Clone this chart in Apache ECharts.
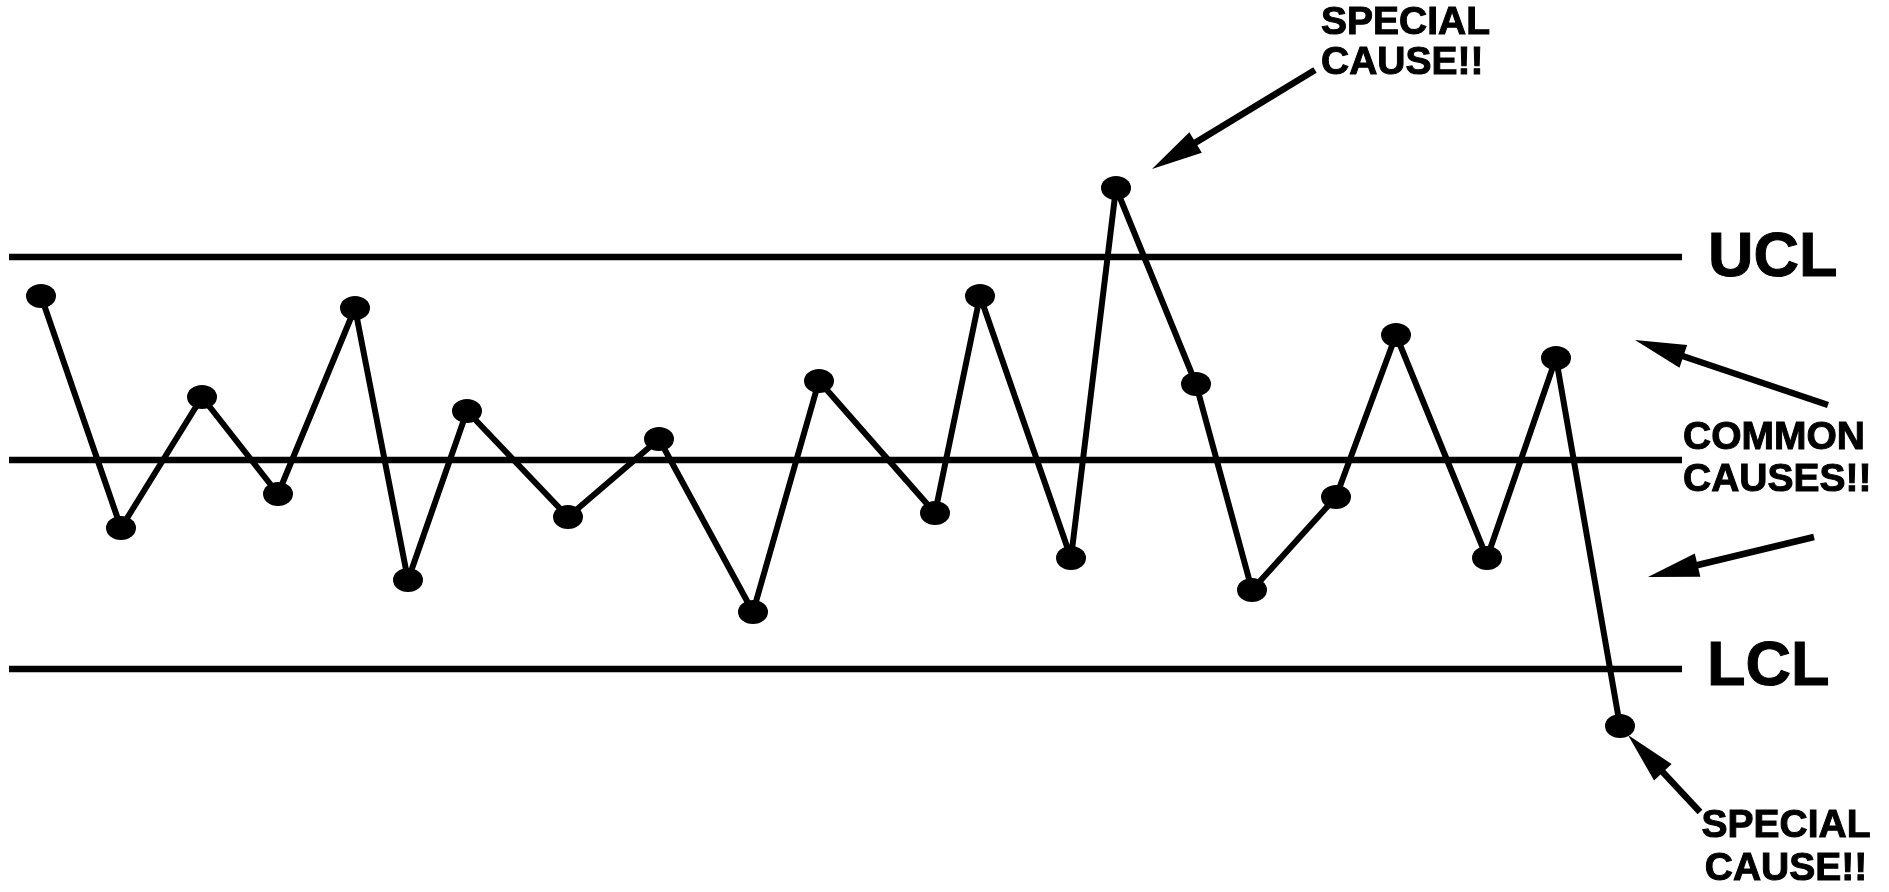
<!DOCTYPE html>
<html><head><meta charset="utf-8">
<script src="https://cdn.jsdelivr.net/npm/echarts@6/dist/echarts.min.js"></script>
<style>html,body{margin:0;padding:0;background:#fff}#c{width:1889px;height:892px}</style>
</head><body><div id="c"></div>
<script>
// Sample positions (time units) and measured values
const sampleX = [4.1, 12.1, 20.2, 27.8, 35.5, 40.8, 46.7, 56.8, 65.9, 75.3, 81.9, 93.5, 98.0, 107.1, 111.6, 119.6, 125.2, 133.6, 139.6, 148.7, 155.6, 162.0];
const sampleY = [59.6, 36.4, 49.5, 39.8, 58.4, 31.2, 48.1, 37.5, 45.3, 28.0, 51.1, 37.9, 59.6, 33.4, 70.4, 50.8, 30.2, 39.5, 55.7, 33.4, 53.4, 16.6];
// Control limits
const limitNames = ['UCL', 'CL', 'LCL'];
const limitValues = [63.5, 43.2, 22.3];
const limitSpan = [0.9, 168.2];
// Annotation texts and anchors (data units)
const labelTexts = ['UCL', 'LCL', 'SPECIAL\nCAUSE!!', 'COMMON\nCAUSES!!', 'SPECIAL\nCAUSE!!'];
const labelX = [170.8, 170.7, 132.1, 168.3, 178.6];
const labelY = [63.3, 22.4, 84.9, 43.3, 4.4];
// Annotation arrows (from -> tip, data units)
const arrowFromX = [131.5, 182.8, 181.4, 170.0];
const arrowFromY = [82.2, 48.7, 35.5, 8.0];
const arrowToX = [115.2, 163.5, 164.8, 162.8];
const arrowToY = [72.3, 55.2, 31.5, 15.7];

const FONT = '"Liberation Sans", Arial, Helvetica, sans-serif';
const labelStyle = [
  {size: 63, lh: 63, align: 'left'},
  {size: 63, lh: 63, align: 'left'},
  {size: 39, lh: 40, align: 'left'},
  {size: 39, lh: 42, align: 'left'},
  {size: 39, lh: 43, align: 'center'}
];

const chart = echarts.init(document.getElementById('c'), null, {renderer: 'canvas'});
const option = {
  animation: false,
  backgroundColor: '#fff',
  grid: {left: 0, right: 0, top: 0, bottom: 0},
  xAxis: {type: 'value', min: 0, max: 188.9, show: false},
  yAxis: {type: 'value', min: 0, max: 89.2, show: false},
  series: [
    ...limitValues.map((v, i) => ({
      type: 'line', name: limitNames[i],
      data: [[limitSpan[0], v], [limitSpan[1], v]],
      symbol: 'none', silent: true, z: 1,
      lineStyle: {color: '#000', width: 6.5}
    })),
    {
      type: 'line', name: 'samples',
      data: sampleX.map((x, i) => [x, sampleY[i]]),
      symbol: 'circle', symbolSize: [30, 24], showAllSymbol: true,
      itemStyle: {color: '#000'},
      lineStyle: {color: '#000', width: 6},
      clip: false, z: 3, silent: true
    },
    {
      type: 'custom', name: 'arrows', clip: false, silent: true, z: 4,
      encode: {x: [0, 2], y: [1, 3]},
      data: arrowFromX.map((x, i) => [x, arrowFromY[i], arrowToX[i], arrowToY[i]]),
      renderItem: (params, api) => {
        const p0 = api.coord([api.value(0), api.value(1)]);
        const p1 = api.coord([api.value(2), api.value(3)]);
        const dx = p0[0] - p1[0], dy = p0[1] - p1[1];
        const L = Math.hypot(dx, dy);
        const ux = dx / L, uy = dy / L;
        const hl = 51, hw = 12;
        const bx = p1[0] + ux * hl, by = p1[1] + uy * hl;
        return {
          type: 'group',
          children: [
            {type: 'line', shape: {x1: p0[0], y1: p0[1], x2: bx - ux * 4, y2: by - uy * 4},
             style: {stroke: '#000', lineWidth: 6.5}},
            {type: 'polygon', shape: {points: [[p1[0], p1[1]], [bx - uy * hw, by + ux * hw], [bx + uy * hw, by - ux * hw]]},
             style: {fill: '#000'}}
          ]
        };
      }
    },
    {
      type: 'custom', name: 'labels', clip: false, silent: true, z: 5,
      encode: {x: 0, y: 1},
      data: labelX.map((x, i) => [x, labelY[i]]),
      renderItem: (params, api) => {
        const p = api.coord([api.value(0), api.value(1)]);
        const s = labelStyle[params.dataIndex];
        return {
          type: 'text', x: p[0], y: p[1],
          style: {
            text: labelTexts[params.dataIndex], fill: '#000',
            stroke: '#000', lineWidth: 1,
            fontSize: s.size, fontWeight: 'bold', fontFamily: FONT,
            lineHeight: s.lh, align: s.align, verticalAlign: 'middle'
          }
        };
      }
    }
  ]
};
chart.setOption(option);
</script>
</body></html>
